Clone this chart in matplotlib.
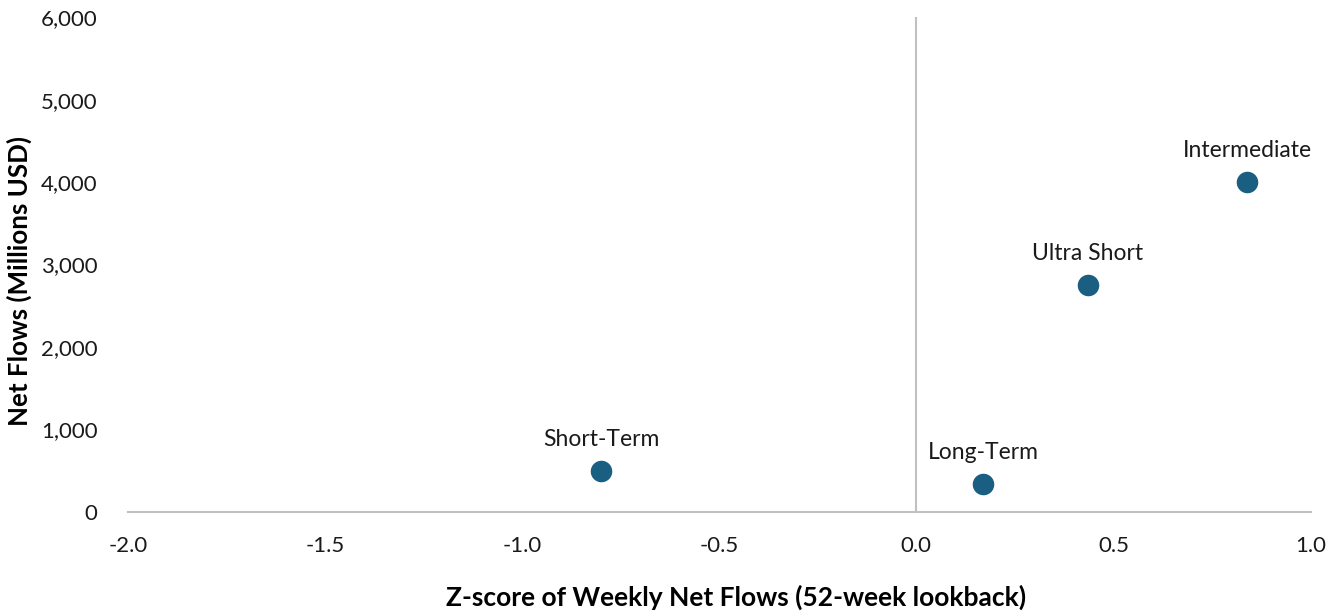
import matplotlib
matplotlib.use("Agg")
import matplotlib.pyplot as plt

categories = ["Short-Term", "Long-Term", "Ultra Short", "Intermediate"]
z_scores = [-0.80, 0.17, 0.435, 0.84]
net_flows = [500, 335, 2750, 4000]
x_ticks = [-2.0, -1.5, -1.0, -0.5, 0.0, 0.5, 1.0]
y_ticks = [0, 1000, 2000, 3000, 4000, 5000, 6000]

plt.rcParams['font.family'] = ['Lato', 'DejaVu Sans']

fig = plt.figure(figsize=(13.4, 6.16), dpi=100)
ax = fig.add_axes([0.0955, 0.169, 0.8825, 0.803])

ax.axvline(0, color="#c0c0c0", lw=1.5, zorder=1)
ax.plot(z_scores, net_flows, 'o', color="#1a5f82", markersize=14.5, zorder=3)
for c, x, y in zip(categories, z_scores, net_flows):
    ax.annotate(c, (x, y), xytext=(0, 15), textcoords="offset points",
                ha="center", va="bottom", fontsize=16.5, color="#1a1a1a")

ax.set_xlim(-2.0, 1.0)
ax.set_ylim(0, 6000)
ax.set_xticks(x_ticks)
ax.set_xticklabels([f"{t:.1f}" for t in x_ticks])
ax.set_yticks(y_ticks)
ax.set_yticklabels([f"{t:,}" for t in y_ticks])
ax.tick_params(length=0, labelsize=16, colors="#1a1a1a")
ax.tick_params(axis='x', pad=17)
ax.tick_params(axis='y', pad=22)
for s in ["top", "right", "left"]:
    ax.spines[s].set_visible(False)
ax.spines["bottom"].set_color("#c0c0c0")
ax.spines["bottom"].set_linewidth(1.5)

ax.set_xlabel("Z-score of Weekly Net Flows (52-week lookback)", fontsize=19,
              fontweight="bold")
ax.xaxis.set_label_coords(0.514, -0.148)
ax.set_ylabel("Net Flows (Millions USD)", fontsize=18.6, fontweight="bold")
ax.yaxis.set_label_coords(-0.081, 0.467)

fig.savefig("out.png", dpi=100)
